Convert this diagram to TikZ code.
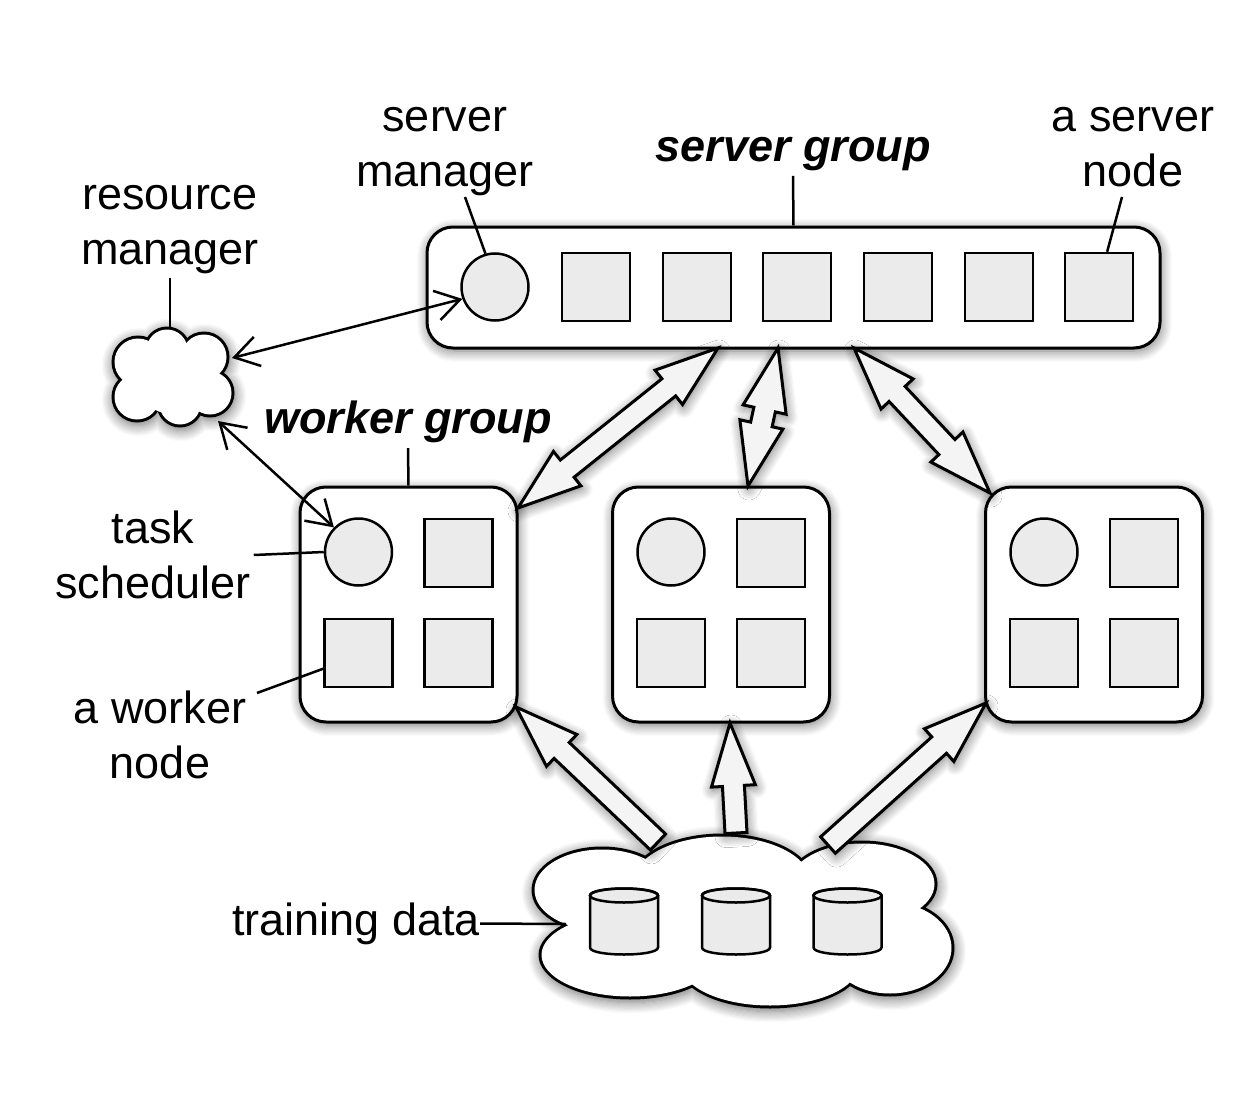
\documentclass[tikz,border=0pt]{standalone}
\usepackage{fontspec}
\setmainfont{Liberation Sans}
\usetikzlibrary{calc,arrows.meta,shadows.blur}
\newcommand\fatdouble[2]{%
 \draw[fat] (#1) -- ($(#1)!63pt!(#2)!22pt!90:(#2)$) -- ($(#1)!63pt!(#2)!11pt!90:(#2)$)
  -- ($(#2)!63pt!(#1)!11pt!-90:(#1)$) -- ($(#2)!63pt!(#1)!22pt!-90:(#1)$) -- (#2)
  -- ($(#2)!63pt!(#1)!22pt!90:(#1)$) -- ($(#2)!63pt!(#1)!11pt!90:(#1)$)
  -- ($(#1)!63pt!(#2)!11pt!-90:(#2)$) -- ($(#1)!63pt!(#2)!22pt!-90:(#2)$) -- cycle;}
\newcommand\fatsingle[2]{%
 \draw[fat] ($(#1)!11pt!90:(#2)$) -- ($(#2)!63pt!(#1)!11pt!-90:(#1)$) -- ($(#2)!63pt!(#1)!22pt!-90:(#1)$) -- (#2)
  -- ($(#2)!63pt!(#1)!22pt!90:(#1)$) -- ($(#2)!63pt!(#1)!11pt!90:(#1)$) -- ($(#1)!11pt!-90:(#2)$) -- cycle;}
\begin{document}
\begin{tikzpicture}[x=1pt,y=-1pt,
  shad/.style={blur shadow={shadow blur radius=11pt, shadow xshift=1pt, shadow yshift=-3pt, shadow opacity=55, shadow blur steps=10}},
  group/.style={draw, line width=3pt, rounded corners=26pt, fill=white, inner sep=0pt, shad},
  snode/.style={draw, line width=2.5pt, fill=gray!16, minimum size=68pt, inner sep=0pt},
  mnode/.style={circle, draw, line width=2.5pt, fill=gray!16, minimum size=67pt, inner sep=0pt},
  lbl/.style={font=\fontsize{45}{55}\selectfont, align=center, inner sep=0pt},
  glbl/.style={font=\fontsize{45}{55}\selectfont\bfseries\itshape, align=center, inner sep=0pt},
  leader/.style={line width=2.5pt},
  link/.style={line width=2.5pt, {Straight Barb[length=24pt,width=30pt]}-{Straight Barb[length=24pt,width=30pt]}},
  fat/.style={draw, line width=3pt, fill=gray!9, line join=miter, shad},
  dbcyl/.pic={
    \draw[line width=2.5pt, fill=gray!16] (-34,-26) -- (-34,26) .. controls (-34,35.33) and (34,35.33) .. (34,26)
      -- (34,-26) .. controls (34,-35.33) and (-34,-35.33) .. (-34,-26) -- cycle;
    \draw[line width=2.5pt] (0,-26) ellipse [x radius=34, y radius=7];
  }]
\useasboundingbox (0,0) rectangle (1254,1108);

% server group
\node[group, minimum width=733pt, minimum height=121pt] (sg) at (793.5,287.5) {};
\node[mnode] (sm) at (495,287) {};
\foreach \i/\x in {1/596,2/697,3/797,4/898,5/999,6/1099}
  \node[snode] (s\i) at (\x,287) {};

% worker groups
\foreach \w/\cx in {1/408.5,2/721,3/1094}{
  \node[group, minimum width=217pt, minimum height=235pt] (w\w) at (\cx,604.5) {};
  \node[mnode] (w\w m) at ($(\cx,552)+(-50,0)$) {};
  \node[snode] (w\w a) at ($(\cx,553)+(50,0)$) {};
  \node[snode] (w\w b) at ($(\cx,653)+(-50,0)$) {};
  \node[snode] (w\w c) at ($(\cx,653)+(50,0)$) {};
}

% resource manager cloud (union of circles: black outer, white inner)
\path[shad, fill=black] \foreach \cx/\cy/\r in {138/362/25, 167/350/22, 204/357/24, 210/393/23, 180/404/22, 137/397/24}{ (\cx,\cy) circle[radius=\r+1.5] };
\fill[white] \foreach \cx/\cy/\r in {138/362/25, 167/350/22, 204/357/24, 210/393/23, 180/404/22, 137/397/24}{ (\cx,\cy) circle[radius=\r-1.5] } (172,378) circle[radius=36];
\coordinate (rmT) at (170,328);
\coordinate (rmE) at (232,358);
\coordinate (rmS) at (218,421);

% fat arrows server <-> workers
\coordinate (t1a) at (718,348); \coordinate (t1b) at (518,508);
\coordinate (t2a) at (778,348); \coordinate (t2b) at (748,486);
\coordinate (t3a) at (854,348); \coordinate (t3b) at (990,493);
\fatdouble{t1a}{t1b}
\fatdouble{t2a}{t2b}
\fatdouble{t3a}{t3b}

% training data cloud (union of ellipses)
\path[shad, fill=black] \foreach \cx/\cy/\rx/\ry in {602/890/69/42, 722/882/90/47, 862/884/74/42, 890/948/63/47, 770/965/90/42, 630/955/90/43}{ (\cx,\cy) ellipse[x radius=\rx+1.5, y radius=\ry+1.5] };
\fill[white] \foreach \cx/\cy/\rx/\ry in {602/890/69/42, 722/882/90/47, 862/884/74/42, 890/948/63/47, 770/965/90/42, 630/955/90/43}{ (\cx,\cy) ellipse[x radius=\rx-1.5, y radius=\ry-1.5] } (745,922) ellipse[x radius=160, y radius=55];
\coordinate (tdW) at (566,924);

% fat arrows data -> workers
\coordinate (b1a) at (658,842); \coordinate (b1b) at (516,707);
\coordinate (b2a) at (736,833); \coordinate (b2b) at (730,723);
\coordinate (b3a) at (828,845); \coordinate (b3b) at (986,703);
\fatsingle{b1a}{b1b}
\fatsingle{b2a}{b2b}
\fatsingle{b3a}{b3b}

% data cylinders
\coordinate (d1) at (624,921.5);
\coordinate (d2) at (736,921.5);
\coordinate (d3) at (847.5,921.5);
\pic at (d1) {dbcyl};
\pic at (d2) {dbcyl};
\pic at (d3) {dbcyl};

% labels
\node[lbl] (sml) at (445,151.5) {server\\manager};
\node[glbl] (sgl) at (793,154) {server group};
\node[lbl] (snl) at (1133,147) {a server\\node};
\node[lbl] (rml) at (170,229.5) {resource\\manager};
\node[glbl] (wgl) at (408,422) {worker group};
\node[lbl] (tsl) at (153,555) {task\\scheduler};
\node[lbl] (wnl) at (160,735) {a worker\\node};
\node[lbl] (tdl) at (356,923.5) {training data};

% leaders
\coordinate (smt) at (465,197);
\coordinate (snt) at (1122,197);
\coordinate (wnt) at (257,693);
\draw[leader] (sgl.south) ++(0,5) -- (sg.north);
\draw[leader] (smt) -- (sm.106);
\draw[leader] (snt) -- (s6.77);
\draw[leader] (rml.south) ++(0,4) -- (rmT);
\draw[leader] (wgl.south) ++(0,5) -- (w1.north);
\draw[leader] ([xshift=3pt]tsl.east) -- (w1m.west);
\draw[leader] (wnt) -- (w1b.204);
\draw[leader] (tdl.east) -- (tdW);

% thin links
\draw[link] (rmE) -- (sm.200);
\draw[link] (rmS) -- (w1m.135);
\end{tikzpicture}
\end{document}
